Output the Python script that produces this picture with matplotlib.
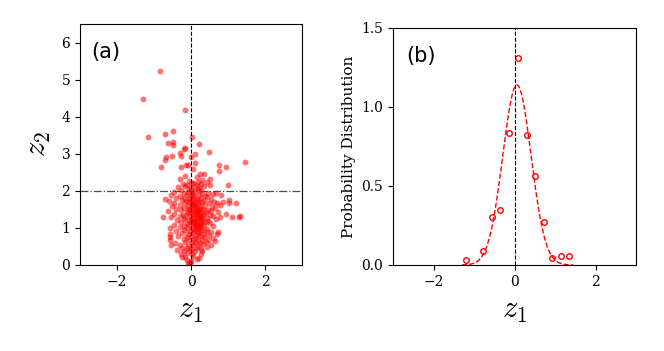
import numpy as np
import matplotlib
matplotlib.use("Agg")
import matplotlib.pyplot as plt

plt.rcParams['font.family'] = ['DejaVu Serif']
plt.rcParams['mathtext.fontset'] = 'cm'

# ---- panel (a): latent scatter (z1, z2) ----
z1_out = [-0.84, -1.30, -0.15, -1.16, -0.71, -0.49, -0.62, -0.49, -0.48, 0.03, 0.21, -0.17, -0.19,
          -0.30, 0.10, 0.01, 0.49, -0.26, -0.51, -0.67, -0.71, -0.82, -0.28, -0.13, -0.08, 0.12,
          0.06, 0.77, 0.77, 0.95, 1.45, 1.01, 0.17, 0.23, 0.36, 0.52, -0.15, -0.30]
z2_out = [5.24, 4.49, 4.18, 3.44, 3.53, 3.61, 3.29, 3.32, 3.24, 3.44, 3.26, 3.15, 3.13,
          3.03, 3.00, 2.92, 3.04, 2.93, 2.95, 2.92, 2.83, 2.65, 2.63, 2.69, 2.69, 2.76,
          2.59, 2.69, 2.54, 2.65, 2.79, 2.16, 2.37, 2.46, 2.46, 2.31, 2.41, 2.31]

z1_core = [
    -0.05, 0.02, 0.20, 0.30, 0.42,
    -0.22, -0.10, 0.05, 0.15, 0.28, 0.50,
    -0.35, -0.15, 0.00, 0.10, 0.22, 0.35,
    -0.28, -0.05, 0.03, 0.18, 0.26,
    -0.45, -0.20, -0.08, 0.02, 0.12, 0.30, 0.46, 0.60, 0.68,
    -0.55, -0.30, -0.12, 0.00, 0.08, 0.22, 0.38, 0.80,
    -0.40, -0.18, -0.05, 0.05, 0.15, 0.28, 0.42, 0.55,
    -0.70, -0.60, -0.25, -0.10, 0.02, 0.10, 0.20, 0.35, 0.62, 0.86, 1.02,
    -0.45, -0.15, -0.02, 0.08, 0.18, 0.30, 0.48, 0.70, 1.02, 1.22,
    -0.52, -0.30, -0.08, 0.03, 0.12, 0.25, 0.38, 0.58, 0.78,
    -0.40, -0.20, -0.05, 0.06, 0.15, 0.22, 0.32, 0.45, 0.65,
    -0.62, -0.28, -0.12, 0.00, 0.10, 0.20, 0.28, 0.40, 0.55, 0.72,
    -0.45, -0.22, -0.08, 0.05, 0.14, 0.24, 0.35, 0.50, 0.95,
    -0.76, -0.53, -0.30, -0.15, -0.02, 0.08, 0.18, 0.28, 0.42, 0.60, 0.78, 1.11, 1.31, 1.33,
    -0.38, -0.20, -0.06, 0.04, 0.12, 0.22, 0.32, 0.45, 0.68,
    -0.28, -0.12, 0.00, 0.08, 0.16, 0.26, 0.38, 0.52,
    -0.45, -0.20, -0.05, 0.05, 0.14, 0.24, 0.35, 0.60,
    -0.57, -0.30, -0.10, 0.02, 0.10, 0.20, 0.30, 0.42,
    -0.40, -0.18, -0.02, 0.08, 0.18, 0.28, 0.40, 0.55, 0.73,
    -0.57, -0.25, -0.08, 0.05, 0.15, 0.25, 0.36, 0.48, 0.70,
    -0.57, -0.35, -0.12, 0.00, 0.12, 0.22, 0.34, 0.60,
    -0.56, -0.20, -0.05, 0.08, 0.18, 0.30, 0.45, 0.66,
    -0.42, -0.15, 0.02, 0.12, 0.25, 0.40,
    -0.53, -0.30, -0.08, 0.06, 0.18, 0.32, 0.55,
    -0.25, -0.10, 0.04, 0.15, 0.28, 0.44,
    -0.39, -0.18, -0.03, 0.10, 0.30,
    -0.28, -0.12, 0.02, 0.28,
    -0.23, -0.15, 0.05, 0.22,
    -0.10, 0.00, 0.15,
    -0.08, -0.02, -0.04,
    0.07, 0.13, 0.19, 0.09, 0.16, 0.24, 0.11, 0.21, 0.27, 0.33, 0.06, 0.14, -0.03, 0.18, 0.26,
]
z2_core = [
    2.27, 2.22, 2.25, 2.28, 2.23,
    2.18, 2.16, 2.20, 2.15, 2.19, 2.17,
    2.10, 2.12, 2.08, 2.11, 2.09, 2.13,
    2.02, 2.04, 2.00, 2.03, 2.01,
    1.97, 1.93, 1.96, 1.92, 1.98, 1.94, 1.95, 1.91, 1.93,
    1.88, 1.86, 1.89, 1.85, 1.87, 1.90, 1.86, 1.88,
    1.80, 1.82, 1.79, 1.81, 1.78, 1.80, 1.83, 1.79,
    1.77, 1.73, 1.74, 1.72, 1.75, 1.71, 1.76, 1.73, 1.70, 1.71, 1.74,
    1.68, 1.66, 1.69, 1.65, 1.67, 1.70, 1.66, 1.68, 1.66, 1.66,
    1.60, 1.62, 1.58, 1.61, 1.59, 1.63, 1.60, 1.57, 1.61,
    1.52, 1.54, 1.51, 1.53, 1.50, 1.55, 1.52, 1.49, 1.53,
    1.45, 1.47, 1.44, 1.46, 1.43, 1.45, 1.48, 1.44, 1.46, 1.42,
    1.38, 1.36, 1.39, 1.37, 1.40, 1.35, 1.38, 1.36, 1.38,
    1.30, 1.30, 1.32, 1.29, 1.31, 1.28, 1.33, 1.30, 1.27, 1.31, 1.29, 1.30, 1.30, 1.31,
    1.22, 1.24, 1.21, 1.23, 1.20, 1.25, 1.22, 1.19, 1.23,
    1.15, 1.13, 1.16, 1.14, 1.17, 1.12, 1.15, 1.13,
    1.08, 1.06, 1.09, 1.07, 1.10, 1.05, 1.08, 1.06,
    1.00, 1.02, 0.99, 1.01, 0.98, 1.03, 1.00, 0.97,
    0.92, 0.94, 0.91, 0.93, 0.90, 0.95, 0.92, 0.89, 0.88,
    0.84, 0.86, 0.83, 0.85, 0.82, 0.87, 0.84, 0.81, 0.84,
    0.76, 0.78, 0.75, 0.77, 0.74, 0.79, 0.76, 0.73,
    0.68, 0.70, 0.67, 0.69, 0.66, 0.71, 0.68, 0.65,
    0.60, 0.62, 0.59, 0.61, 0.58, 0.63,
    0.53, 0.55, 0.52, 0.54, 0.51, 0.56, 0.53,
    0.45, 0.47, 0.44, 0.46, 0.43, 0.48,
    0.40, 0.38, 0.41, 0.37, 0.39,
    0.30, 0.32, 0.29, 0.31,
    0.22, 0.21, 0.24, 0.19,
    0.14, 0.12, 0.16,
    0.06, 0.08, 0.02,
    1.40, 1.26, 1.34, 1.18, 1.48, 1.11, 1.56, 1.43, 1.21, 1.35, 1.64, 1.04, 1.50, 0.96, 1.25,
]

z1_all = z1_out + z1_core
z2_all = z2_out + z2_core

# ---- panel (b): distribution of z1 ----
hist_x = [-1.20, -0.78, -0.55, -0.35, -0.13, 0.08, 0.30, 0.51, 0.72, 0.93, 1.14, 1.355]
hist_y = [0.030, 0.087, 0.303, 0.345, 0.835, 1.311, 0.822, 0.564, 0.273, 0.042, 0.057, 0.057]
fit_mu = 0.06
fit_sigma = 0.35

fig = plt.figure(figsize=(6.64, 3.51), dpi=100)
ax1 = fig.add_axes([80/664, 1 - 265/351, 222/664, 241/351])
ax2 = fig.add_axes([393/664, 1 - 265/351, 243/664, 237/351])

ax1.scatter(z1_all, z2_all, s=18, color='red', alpha=0.55, linewidths=0)
ax1.axvline(0, color='black', linestyle='--', linewidth=0.8)
ax1.axhline(2, color='0.3', linestyle='-.', linewidth=0.9)
ax1.set_xlim(-3, 3)
ax1.set_ylim(0, 6.5)
ax1.set_xticks([-2, 0, 2])
ax1.set_yticks([0, 1, 2, 3, 4, 5, 6])
ax1.set_xlabel('$z_1$', fontsize=22, labelpad=4)
ax1.set_ylabel('$z_2$', fontsize=22, labelpad=6)
ax1.text(0.05, 0.885, '(a)', transform=ax1.transAxes, fontsize=15,
         family='DejaVu Sans', va='center', ha='left')

xs = np.linspace(min(z1_all), max(z1_all), 300)
fit_curve = np.exp(-0.5 * ((xs - fit_mu) / fit_sigma) ** 2) / (fit_sigma * np.sqrt(2 * np.pi))
ax2.plot(xs, fit_curve, color='red', linestyle='--', linewidth=1.0)
ax2.plot(hist_x, hist_y, linestyle='none', marker='o', markersize=4, markerfacecolor='none',
         markeredgecolor='red', markeredgewidth=1.0)
ax2.axvline(0, color='black', linestyle='--', linewidth=0.8)
ax2.set_xlim(-3, 3)
ax2.set_ylim(0, 1.5)
ax2.set_xticks([-2, 0, 2])
ax2.set_yticks([0.0, 0.5, 1.0, 1.5])
ax2.set_xlabel('$z_1$', fontsize=22, labelpad=4)
ax2.set_ylabel('Probability Distribution', fontsize=11, labelpad=4)
ax2.text(0.056, 0.88, '(b)', transform=ax2.transAxes, fontsize=15,
         family='DejaVu Sans', va='center', ha='left')

for ax in (ax1, ax2):
    ax.tick_params(labelsize=10)

fig.savefig('out.png', dpi=100)
